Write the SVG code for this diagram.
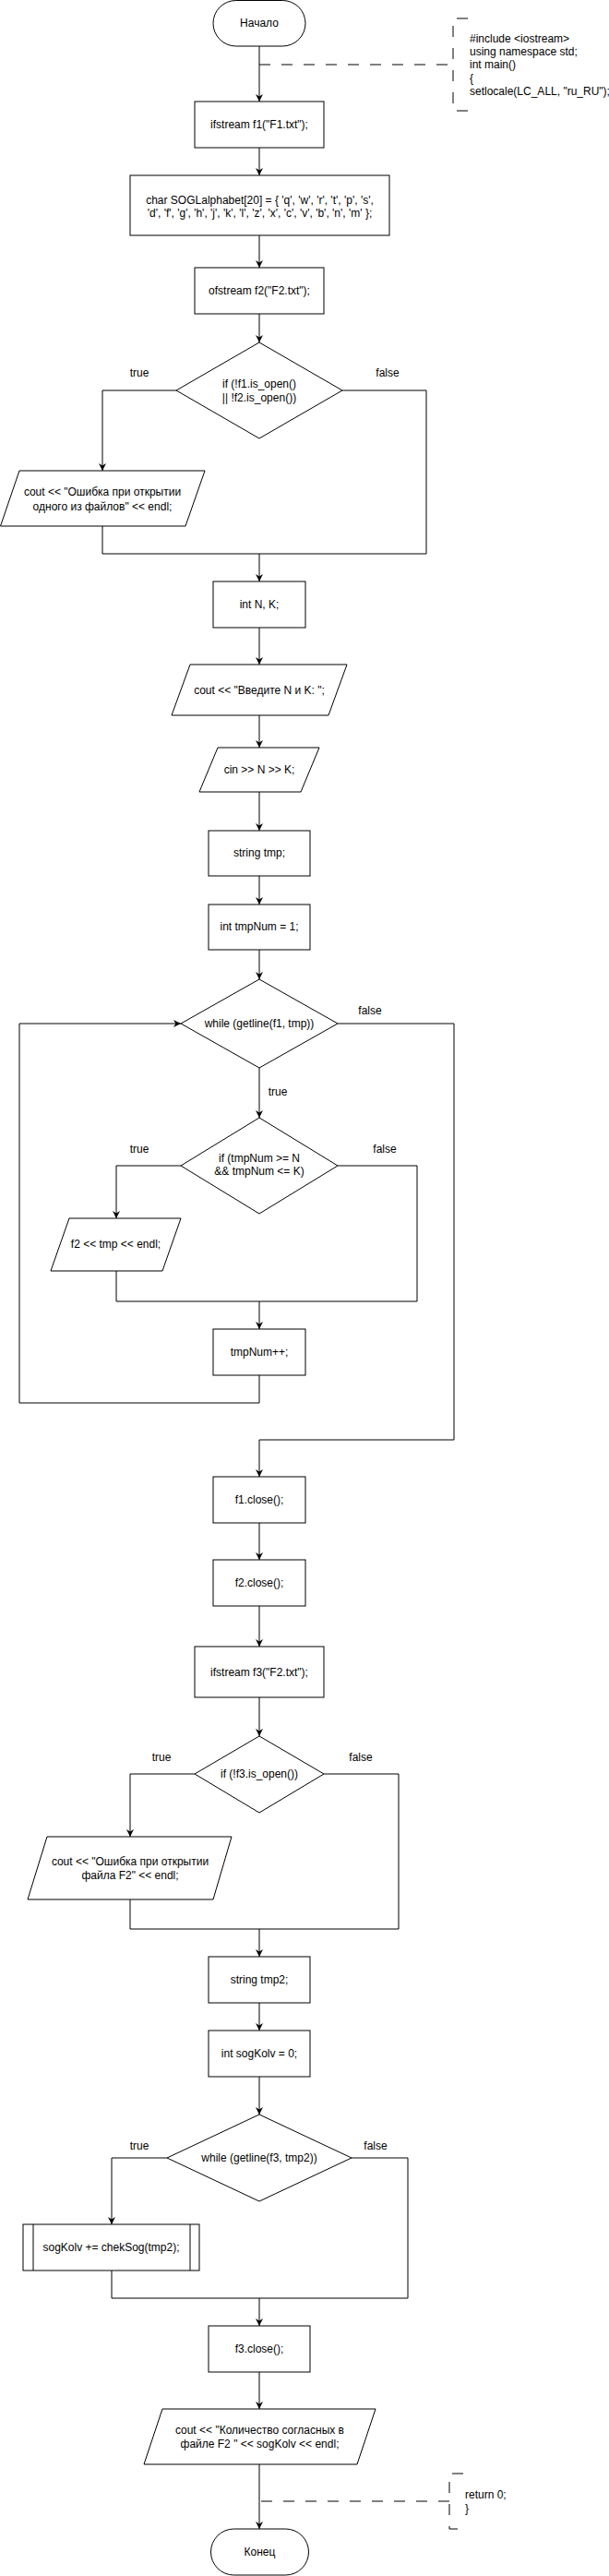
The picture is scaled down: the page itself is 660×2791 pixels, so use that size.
<svg xmlns="http://www.w3.org/2000/svg" width="660" height="2791" viewBox="0 0 660 2791">
<style>
.s{fill:#fff;stroke:#000;stroke-width:1}
.t{font-family:"Liberation Sans",Arial,sans-serif;font-size:12px;fill:#000;text-anchor:middle}
.l{font-family:"Liberation Sans",Arial,sans-serif;font-size:12px;fill:#000;text-anchor:start}
.c{fill:none;stroke:#000;stroke-width:1}
.a{fill:none;stroke:#000;stroke-width:1;marker-end:url(#arr)}
.d{fill:none;stroke:#000;stroke-width:1;stroke-dasharray:12 12}
</style>
<defs>
<marker id="arr" viewBox="0 0 10 10" refX="10" refY="5" markerWidth="8" markerHeight="8" markerUnits="userSpaceOnUse" orient="auto">
<path d="M0,0 L10,5 L0,10 L3,5 z" fill="#000"/>
</marker>
</defs>
<rect width="660" height="2791" fill="#fff"/>
<g id="connectors">
<path class="a" d="M281,50 V110"/>
<path class="d" d="M281,70 H490"/>
<path class="a" d="M281,160 V190"/>
<path class="a" d="M281,255 V290"/>
<path class="a" d="M281,340 V371"/>
<path class="a" d="M191,423 H111 V510"/>
<path class="c" d="M111,570 V600 H462"/>
<path class="c" d="M371,423 H462 V600"/>
<path class="a" d="M281,600 V630"/>
<path class="a" d="M281,680 V720"/>
<path class="a" d="M281,775 V810"/>
<path class="a" d="M281,858 V900"/>
<path class="a" d="M281,949 V980"/>
<path class="a" d="M281,1029 V1061"/>
<path class="a" d="M281,1157 V1211"/>
<path class="a" d="M196,1263 H126 V1320"/>
<path class="c" d="M126,1377 V1410 H452"/>
<path class="c" d="M366,1263 H452 V1410"/>
<path class="a" d="M281,1410 V1440"/>
<path class="a" d="M281,1490 V1520 H21 V1109 H196"/>
<path class="a" d="M366,1109 H492 V1560 H281 V1600"/>
<path class="a" d="M281,1650 V1690"/>
<path class="a" d="M281,1740 V1784"/>
<path class="a" d="M281,1839 V1881"/>
<path class="a" d="M211,1922 H141 V1990"/>
<path class="c" d="M351,1922 H432 V2090"/>
<path class="c" d="M141,2058 V2090 H432"/>
<path class="a" d="M281,2090 V2120"/>
<path class="a" d="M281,2170 V2200"/>
<path class="a" d="M281,2250 V2291"/>
<path class="a" d="M181,2338 H121 V2410"/>
<path class="c" d="M381,2338 H442 V2490"/>
<path class="c" d="M121,2460 V2490 H442"/>
<path class="a" d="M281,2490 V2520"/>
<path class="a" d="M281,2570 V2610"/>
<path class="a" d="M281,2670 V2740"/>
<path class="d" d="M487,2710 H281"/>
<text class="t" x="151" y="408">true</text>
<text class="t" x="420" y="408">false</text>
<text class="t" x="401" y="1099">false</text>
<text class="t" x="301" y="1187">true</text>
<text class="t" x="151" y="1249">true</text>
<text class="t" x="417" y="1249">false</text>
<text class="t" x="175" y="1908">true</text>
<text class="t" x="391" y="1908">false</text>
<text class="t" x="151" y="2329">true</text>
<text class="t" x="407" y="2329">false</text>
</g>
<g id="start">
<rect class="s" x="231" y="0.5" width="100" height="49.5" rx="24.75"/>
<text class="t" x="281" y="29">Начало</text>
</g>
<g id="note1">
<path class="d" d="M507,20 H491 V120 H507"/>
<text class="l" x="509" y="46">#include &lt;iostream&gt;</text>
<text class="l" x="509" y="60">using namespace std;</text>
<text class="l" x="509" y="74">int main()</text>
<text class="l" x="509" y="89">{</text>
<text class="l" x="509" y="103">setlocale(LC_ALL, "ru_RU");</text>
</g>
<g id="ifs1">
<rect class="s" x="211" y="110" width="140" height="50"/>
<text class="t" x="281" y="139">ifstream f1("F1.txt");</text>
</g>
<g id="alphabet">
<rect class="s" x="141" y="190" width="281" height="65"/>
<text class="t" x="281.5" y="221">char SOGLalphabet[20] = { 'q', 'w', 'r', 't', 'p', 's',</text>
<text class="t" x="281.5" y="235">'d', 'f', 'g', 'h', 'j', 'k', 'l', 'z', 'x', 'c', 'v', 'b', 'n', 'm' };</text>
</g>
<g id="ofs2">
<rect class="s" x="211" y="290" width="140" height="50"/>
<text class="t" x="281" y="319">ofstream f2("F2.txt");</text>
</g>
<g id="if1">
<polygon class="s" points="281,371 371,423 281,475 191,423"/>
<text class="t" x="281" y="420">if (!f1.is_open()</text>
<text class="t" x="281" y="435">|| !f2.is_open())</text>
</g>
<g id="err1">
<polygon class="s" points="21,510 222,510 201,570 0.5,570"/>
<text class="t" x="111" y="537">cout &lt;&lt; "Ошибка при открытии</text>
<text class="t" x="111" y="553">одного из файлов" &lt;&lt; endl;</text>
</g>
<g id="intNK">
<rect class="s" x="231" y="630" width="100" height="50"/>
<text class="t" x="281" y="659">int N, K;</text>
</g>
<g id="coutNK">
<polygon class="s" points="206,720 376,720 356,775 186,775"/>
<text class="t" x="281" y="752">cout &lt;&lt; "Введите N и K: ";</text>
</g>
<g id="cinNK">
<polygon class="s" points="236,810 346,810 326,858 216,858"/>
<text class="t" x="281" y="838">cin &gt;&gt; N &gt;&gt; K;</text>
</g>
<g id="strtmp">
<rect class="s" x="226" y="900" width="110" height="49"/>
<text class="t" x="281" y="928">string tmp;</text>
</g>
<g id="tmpNum">
<rect class="s" x="226" y="980" width="110" height="49"/>
<text class="t" x="281" y="1008">int tmpNum = 1;</text>
</g>
<g id="while1">
<polygon class="s" points="281,1061 366,1109 281,1157 196,1109"/>
<text class="t" x="281" y="1113">while (getline(f1, tmp))</text>
</g>
<g id="if2">
<polygon class="s" points="281,1211 366,1263 281,1315 196,1263"/>
<text class="t" x="281" y="1259">if (tmpNum &gt;= N</text>
<text class="t" x="281" y="1273">&amp;&amp; tmpNum &lt;= K)</text>
</g>
<g id="writeF2">
<polygon class="s" points="75,1320 196,1320 176,1377 55,1377"/>
<text class="t" x="125.5" y="1352">f2 &lt;&lt; tmp &lt;&lt; endl;</text>
</g>
<g id="inc">
<rect class="s" x="231" y="1440" width="100" height="50"/>
<text class="t" x="281" y="1469">tmpNum++;</text>
</g>
<g id="f1close">
<rect class="s" x="231" y="1600" width="100" height="50"/>
<text class="t" x="281" y="1629">f1.close();</text>
</g>
<g id="f2close">
<rect class="s" x="231" y="1690" width="100" height="50"/>
<text class="t" x="281" y="1719">f2.close();</text>
</g>
<g id="ifs3">
<rect class="s" x="211" y="1784" width="140" height="55"/>
<text class="t" x="281" y="1816">ifstream f3("F2.txt");</text>
</g>
<g id="if3">
<polygon class="s" points="281,1881 351,1922 281,1964 211,1922"/>
<text class="t" x="281" y="1926">if (!f3.is_open())</text>
</g>
<g id="err2">
<polygon class="s" points="51,1990 251,1990 231,2058 30,2058"/>
<text class="t" x="141" y="2021">cout &lt;&lt; "Ошибка при открытии</text>
<text class="t" x="141" y="2036">файла F2" &lt;&lt; endl;</text>
</g>
<g id="strtmp2">
<rect class="s" x="226" y="2120" width="110" height="50"/>
<text class="t" x="281" y="2149">string tmp2;</text>
</g>
<g id="sogKolv">
<rect class="s" x="226" y="2200" width="110" height="50"/>
<text class="t" x="281" y="2229">int sogKolv = 0;</text>
</g>
<g id="while2">
<polygon class="s" points="281,2291 381,2338 281,2385 181,2338"/>
<text class="t" x="281" y="2342">while (getline(f3, tmp2))</text>
</g>
<g id="chekSog">
<rect class="s" x="25" y="2410" width="191" height="50"/>
<path class="c" d="M36,2410 V2460 M206,2410 V2460"/>
<text class="t" x="120.5" y="2439">sogKolv += chekSog(tmp2);</text>
</g>
<g id="f3close">
<rect class="s" x="226" y="2520" width="110" height="50"/>
<text class="t" x="281" y="2549">f3.close();</text>
</g>
<g id="coutRes">
<polygon class="s" points="176,2610 407,2610 387,2670 156,2670"/>
<text class="t" x="281.5" y="2637">cout &lt;&lt; "Количество согласных в</text>
<text class="t" x="281.5" y="2652">файле F2 " &lt;&lt; sogKolv &lt;&lt; endl;</text>
</g>
<g id="note2">
<path class="d" d="M502,2680 H487 V2740 H497"/>
<text class="l" x="504" y="2707">return 0;</text>
<text class="l" x="504" y="2722">}</text>
</g>
<g id="end">
<rect class="s" x="228.5" y="2740" width="106" height="50" rx="25"/>
<text class="t" x="281.5" y="2769">Конец</text>
</g>
</svg>
